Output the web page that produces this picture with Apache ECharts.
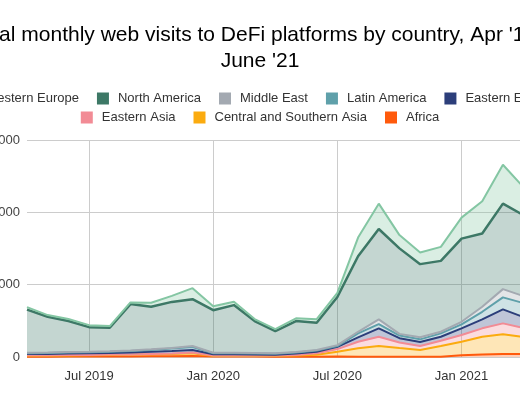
<!DOCTYPE html>
<html><head><meta charset="utf-8">
<script src="https://cdn.jsdelivr.net/npm/echarts@6/dist/echarts.min.js"></script>
<style>
html,body{margin:0;padding:0;overflow:hidden;background:#fff;width:520px;height:400px;position:relative}
#c{position:absolute;left:-50px;top:0;width:620px;height:400px}
</style>
</head><body><div id="c"></div>
<script>
// Categories (months)
const months = ['Apr 2019','May 2019','Jun 2019','Jul 2019','Aug 2019','Sep 2019','Oct 2019','Nov 2019','Dec 2019',
  'Jan 2020','Feb 2020','Mar 2020','Apr 2020','May 2020','Jun 2020','Jul 2020','Aug 2020','Sep 2020','Oct 2020','Nov 2020','Dec 2020',
  'Jan 2021','Feb 2021','Mar 2021','Apr 2021','May 2021','Jun 2021'];
const xTickLabels = ['Jul 2019','Jan 2020','Jul 2020','Jan 2021'];
const yTicks = [0, 50, 100, 150]; // millions of visits

// Series values (millions of visits)
const africa   = [0.21,0.21,0.28,0.34,0.34,0.41,0.48,0.55,0.69,0.28,0.28,0.28,0.21,0.21,0.21,0.30,0.21,0.21,0.14,0.14,0.21,1.17,1.72,2.07,2.07,1.72,1.38];
const csAsia   = [0.69,0.69,0.76,0.83,1.03,1.10,1.38,1.52,1.86,0.41,0.41,0.41,0.48,0.76,1.38,3.30,5.79,7.38,6.00,4.69,7.38,9.38,12.3,13.6,11.7,10.0,7.59];
const eAsia    = [0.28,0.28,0.28,0.28,0.28,0.28,0.28,0.34,0.55,0.28,0.28,0.28,0.28,0.41,0.97,1.86,4.55,6.41,3.86,2.76,3.66,4.62,5.79,7.59,6.21,5.52,4.14];
const eEurope  = [0.90,0.90,1.03,1.10,1.10,1.31,1.52,1.72,1.72,0.90,0.90,0.76,0.62,1.03,1.10,1.59,3.03,5.79,3.03,2.76,2.76,4.62,6.21,9.66,7.59,6.90,5.52];
const latAm    = [0.55,0.69,0.69,0.69,0.83,1.03,1.17,1.72,2.07,0.69,0.69,0.62,0.62,0.69,0.76,0.48,2.76,2.97,1.79,1.86,2.34,2.76,5.24,8.28,9.66,8.28,6.90];
const midEast  = [0.34,0.34,0.41,0.41,0.41,0.34,0.48,0.34,0.69,0.41,0.41,0.41,0.34,0.34,0.41,0.69,1.10,3.24,1.17,1.38,1.10,1.79,3.45,5.72,4.83,4.83,3.45];
const northAm  = [29.8,24.7,21.4,17.0,16.2,32.1,29.4,31.9,32.4,29.4,32.9,22.1,15.4,21.4,18.8,33.3,52.2,62.5,59.1,50.6,49.0,57.5,50.6,59.1,55.9,53.8,39.3];
const westEu   = [1.72,1.17,1.38,1.38,1.17,1.17,2.76,4.14,7.59,2.76,2.28,1.38,1.38,1.86,2.55,2.76,12.9,17.5,9.17,8.07,9.66,14.5,22.3,26.9,19.3,17.2,12.4];

const legendRow1 = ['Western Europe','North America','Middle East','Latin America','Eastern Europe'];
const legendRow2 = ['Eastern Asia','Central and Southern Asia','Africa'];

const seriesDefs = [
  ['Africa', africa, '#ff5a0c'],
  ['Central and Southern Asia', csAsia, '#fbab0f'],
  ['Eastern Asia', eAsia, '#f28b95'],
  ['Eastern Europe', eEurope, '#2c3e7a'],
  ['Latin America', latAm, '#5fa0aa'],
  ['Middle East', midEast, '#a3a9b1'],
  ['North America', northAm, '#3d7866'],
  ['Western Europe', westEu, '#84c6a3']
];

const FONT = '"Liberation Sans", Arial, sans-serif';
const chart = echarts.init(document.getElementById('c'), null, {renderer: 'canvas'});
const legendCommon = {
  left: 'center', icon: 'rect', itemWidth: 12, itemHeight: 12, itemGap: 18,
  textStyle: {fontFamily: FONT, fontSize: 13, color: '#333', padding: [0, 0, 0, 4]}
};
chart.setOption({
  animation: false,
  title: {
    text: "Total monthly web visits to DeFi platforms by country, Apr '19 -\nJune '21",
    left: 'center', top: 17,
    textStyle: {fontFamily: FONT, fontSize: 21, fontWeight: 'normal', color: '#000', lineHeight: 26, align: 'center'}
  },
  legend: [
    Object.assign({}, legendCommon, {top: 87, data: legendRow1}),
    Object.assign({}, legendCommon, {top: 106, data: legendRow2})
  ],
  grid: {left: 77, right: 5, top: 140, bottom: 43, containLabel: false, outerBoundsMode: 'none'},
  xAxis: {
    type: 'category', data: months, boundaryGap: false,
    axisLine: {show: false}, axisTick: {show: false},
    axisLabel: {interval: (i, v) => xTickLabels.includes(v), fontFamily: FONT, fontSize: 13, color: '#333', margin: 13},
    splitLine: {show: true, interval: (i, v) => xTickLabels.includes(v), lineStyle: {color: '#cccccc', width: 1}}
  },
  yAxis: {
    type: 'value', min: yTicks[0], max: yTicks[yTicks.length - 1], interval: yTicks[1] - yTicks[0],
    axisLine: {show: false}, axisTick: {show: false},
    axisLabel: {formatter: v => (v * 1000000).toLocaleString('en-US'), fontFamily: FONT, fontSize: 13, color: '#444', margin: 7},
    splitLine: {lineStyle: {color: '#cccccc', width: 1}}
  },
  series: seriesDefs.map(([name, data, color]) => ({
    name, type: 'line', stack: 'total', data, symbol: 'none',
    itemStyle: {color}, lineStyle: {color, width: name === 'North America' ? 2.5 : 2},
    areaStyle: {color, opacity: 0.3}
  }))
});
</script>
</body></html>
